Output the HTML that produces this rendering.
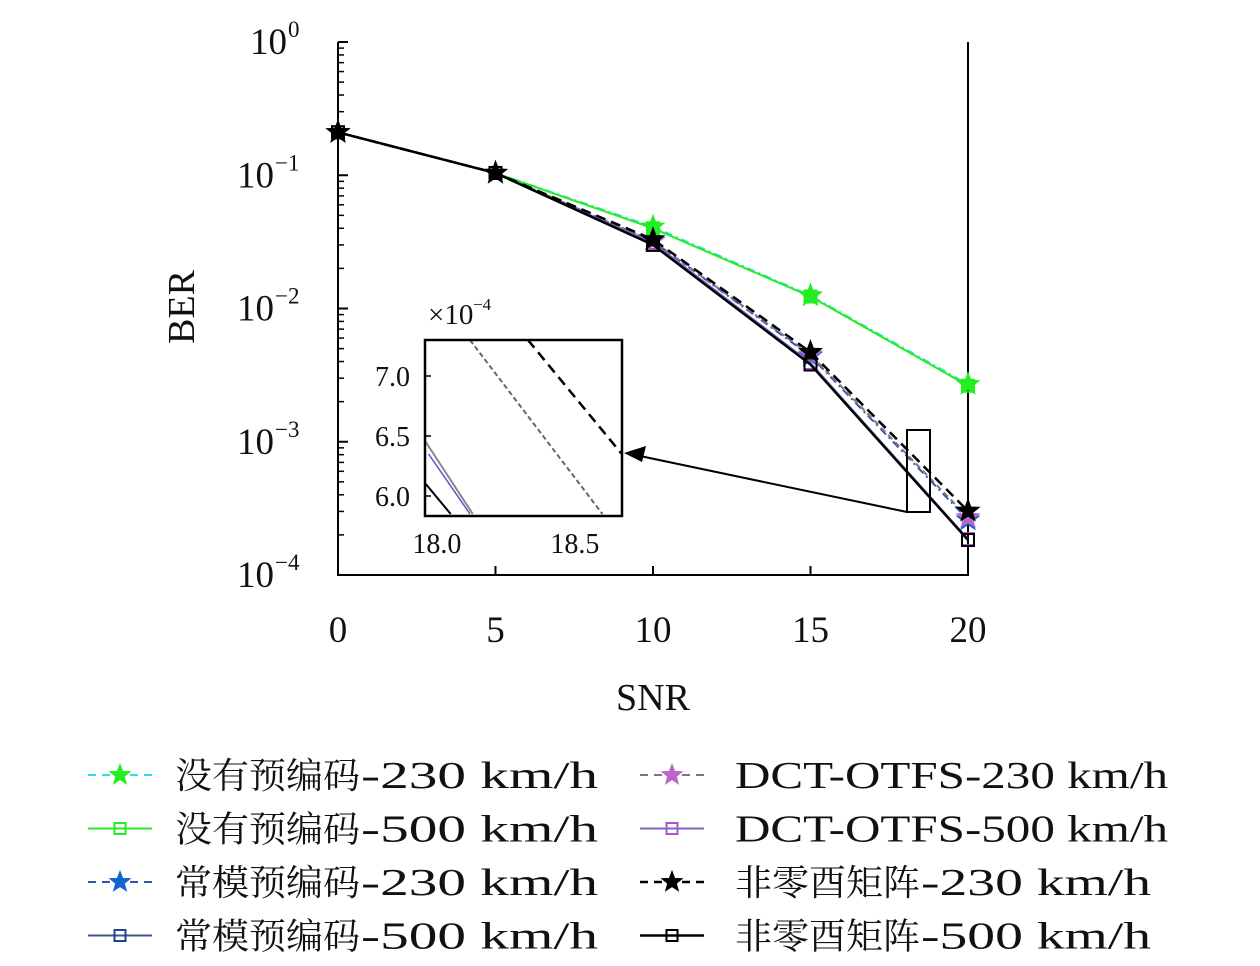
<!DOCTYPE html>
<html><head><meta charset="utf-8"><style>
body{margin:0;background:#fff}
svg text{font-family:"Liberation Serif","Noto Serif CJK SC",serif;fill:#111}
</style></head><body>
<svg width="1260" height="961" viewBox="0 0 1260 961" xmlns="http://www.w3.org/2000/svg">
<g id="main"></g>
</svg>
<script>
const snr=[0,5,10,15,20];
const noPre230=[0.21,0.104,0.041,0.0125,0.0027];
const noPre500=[0.21,0.104,0.040,0.0123,0.00263];
const cm230=[0.21,0.104,0.032,0.0044,0.00026];
const cm500=[0.21,0.104,0.031,0.00385,0.000185];
const dct230=[0.21,0.104,0.032,0.0045,0.00027];
const dct500=[0.21,0.104,0.031,0.0039,0.000186];
const nz230=[0.21,0.104,0.033,0.0047,0.000302];
const nz500=[0.21,0.104,0.030,0.0038,0.000183];
const xTicks=[0,5,10,15,20];
const yExps=[0,-1,-2,-3,-4];
// inset data (x, BER×1e-4)
const insetX=[[18.33,18.67],[18.12,18.60],[17.96,18.13],[17.97,18.12],[17.96,18.05]];
const insetY=[[7.3,6.35],[7.3,5.85],[6.45,5.85],[6.35,5.85],[6.1,5.85]];
const insetXTicks=[18.0,18.5];
const insetYTicks=[6.0,6.5,7.0];

const NS="http://www.w3.org/2000/svg";
const g=document.getElementById('main');
function el(t,a,p){const e=document.createElementNS(NS,t);for(const k in a)e.setAttribute(k,a[k]);(p||g).appendChild(e);return e;}
const X=v=>338+v*31.5;
const Y=v=>42-Math.log10(v)*133.25;

let ax=el('path',{d:'M338 42 V575 H968 V42',fill:'none',stroke:'#000','stroke-width':2});


xTicks.forEach(t=>{
  const tk=el('line',{x1:X(t),x2:X(t),y1:575,y2:566,stroke:'#000','stroke-width':2});
  
  
  const tx=el('text',{x:X(t),y:642,'font-size':37,'text-anchor':'middle'});tx.textContent=t;
  
  
});
yExps.forEach(e=>{
  const y=Y(Math.pow(10,e));
  const tk=el('line',{x1:338,x2:348,y1:y,y2:y,stroke:'#000','stroke-width':2});
  
  
  const tx=el('text',{x:e===0?250:237,y:y+12,'font-size':37});
  tx.textContent='10';
  
  
  const sp=el('text',{x:e===0?288:275,y:y-5,'font-size':23});sp.textContent=e===0?'0':'\u2212'+(-e);
  
  
  if(e>-4)for(let m=2;m<10;m++){
    const yy=Y(m*Math.pow(10,e-1));
    const mt=el('line',{x1:338,x2:344,y1:yy,y2:yy,stroke:'#000','stroke-width':1.5});
    
    
  }
});
let xl=el('text',{x:653,y:710,'font-size':38,'text-anchor':'middle'});xl.textContent='SNR';


let yl=el('text',{x:0,y:0,'font-size':38,'text-anchor':'middle',transform:'translate(194,307) rotate(-90)'});yl.textContent='BER';



function star(cx,cy,r,fill,stroke,parent){
  let p='';for(let i=0;i<10;i++){const a=-Math.PI/2+i*Math.PI/5,rr=i%2?r*0.42:r;p+=(i?'L':'M')+(cx+rr*Math.cos(a)).toFixed(1)+' '+(cy+rr*Math.sin(a)).toFixed(1);}
  return el('path',{d:p+'Z',fill:fill,stroke:stroke,'stroke-width':1.5},parent);
}
function sq(cx,cy,s,stroke,parent){return el('rect',{x:cx-s/2,y:cy-s/2,width:s,height:s,fill:'none',stroke:stroke,'stroke-width':2},parent);}

const series=[
 {name:'no-precoding-230',d:noPre230,c:'#33dddd',dash:'8 4 2 4',m:'star',mc:'#22ee22',w:2},
 {name:'no-precoding-500',d:noPre500,c:'#22ee22',dash:'',m:'sq',mc:'#22ee22',w:2},
 {name:'cm-precoding-230',d:cm230,c:'#3355aa',dash:'8 4 2 4',m:'star',mc:'#1166cc',w:2},
 {name:'cm-precoding-500',d:cm500,c:'#445588',dash:'',m:'sq',mc:'#224488',w:2},
 {name:'dct-otfs-230',d:dct230,c:'#777788',dash:'6 4',m:'star',mc:'#bb66cc',w:2},
 {name:'dct-otfs-500',d:dct500,c:'#7766cc',dash:'',m:'sq',mc:'#aa55cc',w:2},
 {name:'nonzero-matrix-230',d:nz230,c:'#000',dash:'10 6',m:'star',mc:'#000',w:2.5},
 {name:'nonzero-matrix-500',d:nz500,c:'#000',dash:'',m:'sq',mc:'#000',w:2.5},
];
series.forEach(s=>{
  const pts=snr.map((x,i)=>X(x).toFixed(1)+','+Y(s.d[i]).toFixed(1)).join(' ');
  const l=el('polyline',{points:pts,fill:'none',stroke:s.c,'stroke-width':s.w,'stroke-dasharray':s.dash});
  
  
  snr.forEach((x,i)=>{
    const mk=s.m==='star'?star(X(x),Y(s.d[i]),11,s.mc,s.mc):sq(X(x),Y(s.d[i]),12,s.mc);
    
    
  });
});

let zr=el('rect',{x:907,y:430,width:23,height:82,fill:'none',stroke:'#000','stroke-width':2});


let ar=el('line',{x1:907,y1:512,x2:640,y2:456,stroke:'#000','stroke-width':2});


let ah=el('path',{d:'M624 453 L646 446 L642 462 Z',fill:'#000'});



const IX=v=>425+(v-17.957)*276, IY=v=>376-(v-7.0)*120;
let ib=el('rect',{x:425,y:340,width:197,height:176,fill:'#fff',stroke:'none'});


el('clipPath',{id:'ic'}).appendChild((()=>{const r=document.createElementNS(NS,'rect');r.setAttribute('x',425);r.setAttribute('y',340);r.setAttribute('width',197);r.setAttribute('height',176);return r;})());
const insetStyles=[['#000','2.5','10 6'],['#666','2','5 3'],['#888','2',''],['#5555cc','1.5',''],['#000','2','']];
insetX.forEach((xs,i)=>{
  const st=insetStyles[i];
  const l=el('line',{x1:IX(xs[0]),y1:IY(insetY[i][0]),x2:IX(xs[1]),y2:IY(insetY[i][1]),stroke:st[0],'stroke-width':st[1],'stroke-dasharray':st[2],'clip-path':'url(#ic)'});
  
  
});
let ifr=el('rect',{x:425,y:340,width:197,height:176,fill:'none',stroke:'#000','stroke-width':2.5});


insetXTicks.forEach(t=>{
  const tx=el('text',{x:IX(t),y:553,'font-size':28,'text-anchor':'middle'});tx.textContent=t.toFixed(1);
  
  
});
insetYTicks.forEach(t=>{
  const tx=el('text',{x:410,y:IY(t)+10,'font-size':28,'text-anchor':'end'});tx.textContent=t.toFixed(1);
  
  
  const tk=el('line',{x1:425,x2:431,y1:IY(t),y2:IY(t),stroke:'#000','stroke-width':1.5});
  
  
});
let im=el('text',{x:428,y:324,'font-size':29});im.textContent='\u00d710';


let ime=el('text',{x:473,y:310,'font-size':17});ime.textContent='\u22124';



const cjk=['没有预编码','没有预编码','常模预编码','常模预编码','','','非零酉矩阵','非零酉矩阵'];
const lat=['-230 km/h','-500 km/h','-230 km/h','-500 km/h','DCT-OTFS-230 km/h','DCT-OTFS-500 km/h','-230 km/h','-500 km/h'];
series.forEach((s,i)=>{
  const col=i<4?0:1,row=i%4;
  const lx=col?640:88,tx=col?735:175,y=775+row*53.5;
  const grp=el('g',{});
  
  
  el('line',{x1:lx,x2:lx+64,y1:y,y2:y,stroke:s.c,'stroke-width':s.w,'stroke-dasharray':s.dash?'8 6':''},grp);
  if(s.m==='star')star(lx+32,y,10,s.mc,s.mc,grp);else sq(lx+32,y,11,s.mc,grp);
  let x0=tx;
  if(cjk[i]){const c=el('text',{x:x0,y:y+13,'font-size':36,textLength:185,lengthAdjust:'spacingAndGlyphs'},grp);c.textContent=cjk[i];x0+=186;}
  const len=cjk[i]?(col?230:237):433;
  const t=el('text',{x:x0,y:y+13,'font-size':38,textLength:len,lengthAdjust:'spacingAndGlyphs'},grp);t.textContent=lat[i];
});
</script>
</body></html>
